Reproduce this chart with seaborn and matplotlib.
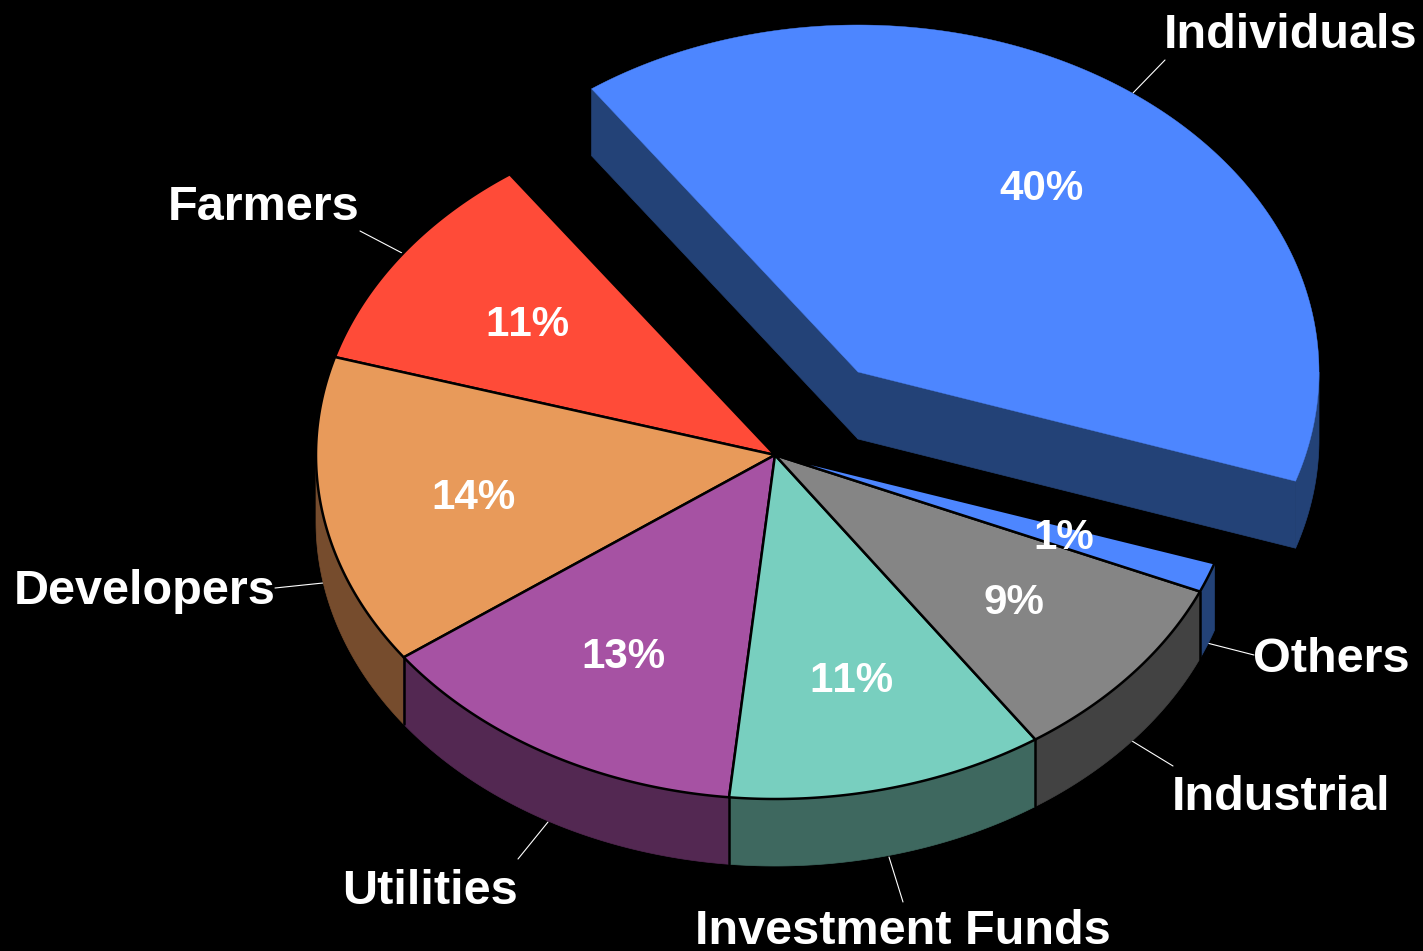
import numpy as np
import matplotlib
matplotlib.use("Agg")
import matplotlib.pyplot as plt
import seaborn as sns

# --- data -------------------------------------------------------------
categories = ["Farmers", "Developers", "Utilities", "Investment Funds",
              "Industrial", "Others", "Individuals"]
shares = [10.6, 14.6, 13.4, 11.1, 9.0, 1.4, 39.9]
share_labels = ["11%", "14%", "13%", "11%", "9%", "1%", "40%"]
top_colors = ["#FF4B38", "#E89A5A", "#A652A3", "#78CFBF", "#858585", "#4D86FF", "#4D86FF"]
wall_colors = ["#7F2A20", "#764C2D", "#532852", "#3E685F", "#424242", "#234277", "#234277"]

# --- layout -----------------------------------------------------------
CX, CY, RX_LEFT, RX_RIGHT, RY_UP, RY_DOWN, DEPTH = 775, 455, 459, 463, 344, 344, 67
START = 125.3
EXPLODE = {"Individuals": (83, -83)}
EXPLODED_RADII = (461, 347)
NO_EDGE = {"Individuals"}
NAME_POS = {"Farmers": (264, 207), "Developers": (145, 592), "Utilities": (430, 891),
            "Investment Funds": (903, 932), "Industrial": (1281, 798),
            "Others": (1331, 659), "Individuals": (1291, 36)}
PCT_POS = {"Farmers": (527, 325), "Developers": (474, 498), "Utilities": (623, 657),
           "Investment Funds": (851, 681), "Industrial": (1014, 603),
           "Others": (1064, 538), "Individuals": (1041, 189)}
LEADERS = {"Farmers": ((402, 253), (360, 231)), "Developers": ((323, 583), (275, 588)),
           "Utilities": ((548, 822), (518, 859)), "Investment Funds": ((889, 857), (903, 902)),
           "Industrial": ((1132, 741), (1173, 766)), "Others": ((1207, 643), (1254, 655)),
           "Individuals": ((1133, 93), (1165, 60))}

sns.set_theme(style="dark", rc={"figure.facecolor": "black", "axes.facecolor": "black"})
plt.rcParams["font.family"] = ["Liberation Sans", "DejaVu Sans"]
plt.rcParams["text.kerning_factor"] = 12
tops = sns.color_palette(top_colors)
walls = sns.color_palette(wall_colors)

fig = plt.figure(figsize=(14.23, 9.51), dpi=100)
ax = fig.add_axes([0, 0, 1, 1])
ax.set_xlim(0, 1423)
ax.set_ylim(951, 0)
ax.axis("off")


def arc(a0, a1, name):
    t = np.radians(np.linspace(a0, a1, max(int(abs(a1 - a0) * 2), 2)))
    c, s = np.cos(t), np.sin(t)
    if name in EXPLODE:
        dx, dy = EXPLODE[name]
        rx, ry = EXPLODED_RADII
        return CX + dx + rx * c, CY + dy - ry * s
    rx = np.where(c < 0, RX_LEFT, RX_RIGHT)
    ry = np.where(s > 0, RY_UP, RY_DOWN)
    return CX + rx * c, CY - ry * s


def wall(xs, ys, color):
    px = np.r_[xs, xs[::-1]]
    py = np.r_[ys, ys[::-1] + DEPTH]
    ax.fill(px, py, facecolor=color, edgecolor=color, lw=0.5, zorder=2)


edges = START + np.r_[0, np.cumsum(shares)] * 3.6
order = [6, 0, 1, 5, 2, 4, 3]
for i in order:
    name = categories[i]
    a0, a1 = edges[i], edges[i + 1]
    dx, dy = EXPLODE.get(name, (0, 0))
    ax_x, ax_y = CX + dx, CY + dy
    edge = name not in NO_EDGE
    # outer rim: only the part facing the viewer (parameter 180-360 deg)
    lo, hi = max(a0, 180), min(a1, 360)
    if hi > lo:
        wall(*arc(lo, hi, name), walls[i])
    # boundary between neighbouring rim pieces
    if edge and a0 > 180:
        ex, ey = arc(a0, a0, name)
        ax.plot([ex[0], ex[0]], [ey[0], ey[0] + DEPTH], color="black", lw=1.8, zorder=3)
    # cut faces of an exploded slice
    if name in EXPLODE:
        for a in (a0, a1):
            ex, ey = arc(a, a, name)
            wall(np.array([ax_x, ex[0]]), np.array([ax_y, ey[0]]), walls[i])
    ox, oy = arc(a0, a1, name)
    px, py = np.r_[ax_x, ox], np.r_[ax_y, oy]
    ax.fill(px, py, facecolor=tops[i],
            edgecolor="black" if edge else tops[i],
            lw=1.8 if edge else 0.3, joinstyle="round", zorder=4 + i * 0.01)

for i, name in enumerate(categories):
    (x0, y0), (x1, y1) = LEADERS[name]
    ax.plot([x0, x1], [y0, y1], color="white", lw=0.8, zorder=1)
    x, y = NAME_POS[name]
    ax.text(x, y, name, color="white", fontsize=35, fontweight="bold",
            ha="center", va="center", zorder=6)
    x, y = PCT_POS[name]
    ax.text(x, y, share_labels[i], color="white", fontsize=30.3, fontweight="bold",
            ha="center", va="center", zorder=6)

fig.savefig("out.png", dpi=100, facecolor="black")
